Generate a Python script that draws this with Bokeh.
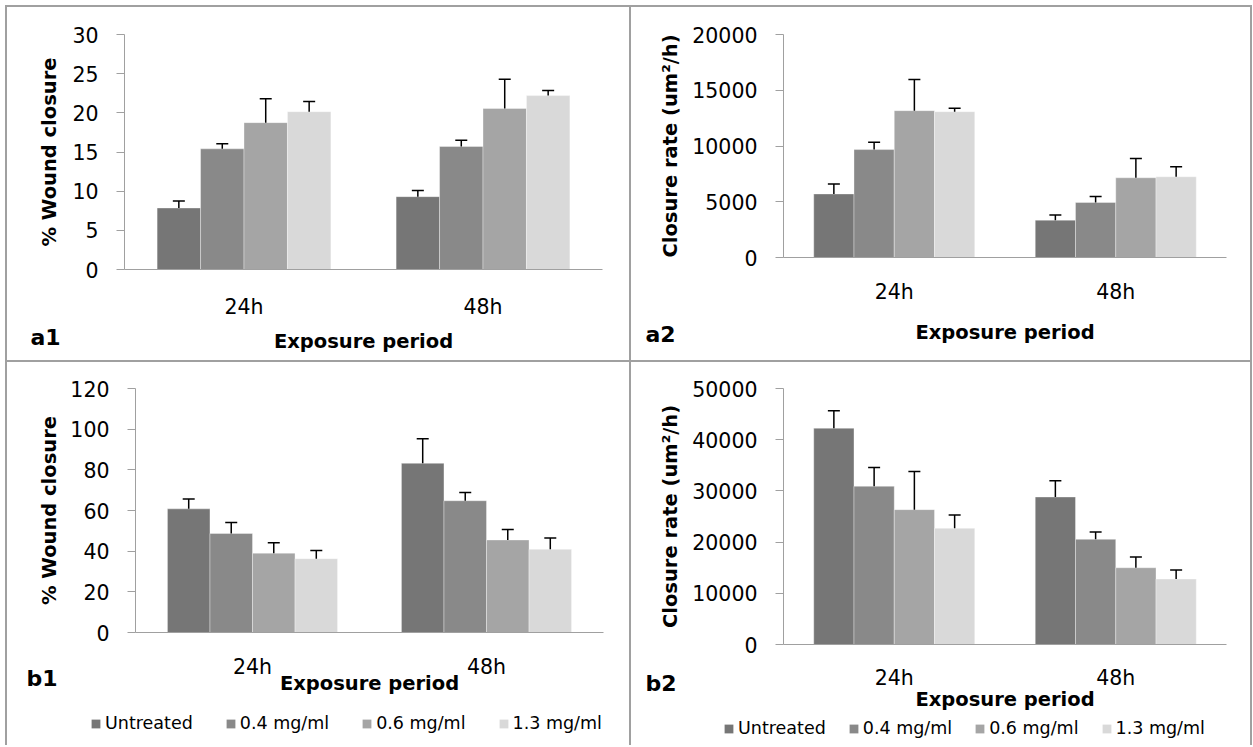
from bokeh.plotting import figure
from bokeh.models import (ColumnDataSource, FactorRange, Range1d, SingleIntervalTicker,
                          Whisker, TeeHead, Title, Legend, LegendItem, Spacer)
from bokeh.layouts import row, column
from bokeh.transform import dodge
from bokeh.embed import file_html
from bokeh.resources import INLINE

# ---------------- data ----------------
periods = ["24h", "48h"]
series = ["Untreated", "0.4 mg/ml", "0.6 mg/ml", "1.3 mg/ml"]
colors = ["#767676", "#898989", "#a5a5a5", "#d9d9d9"]

# a1: % wound closure
a1_means = [[7.85, 9.3], [15.4, 15.7], [18.75, 20.55], [20.15, 22.2]]
a1_errs = [[0.9, 0.8], [0.65, 0.8], [3.05, 3.75], [1.3, 0.65]]
# a2: closure rate
a2_means = [[5700, 3350], [9680, 4930], [13170, 7150], [13080, 7240]]
a2_errs = [[890, 460], [650, 540], [2800, 1730], [300, 890]]
# b1: % wound closure
b1_means = [[60.8, 83.2], [48.7, 64.8], [39.0, 45.5], [36.3, 40.9]]
b1_errs = [[4.8, 12.1], [5.4, 4.1], [5.2, 5.1], [4.0, 5.6]]
# b2: closure rate
b2_means = [[42240, 28810], [30900, 20540], [26340, 14990], [22690, 12780]]
b2_errs = [[3390, 3190], [3650, 1430], [7430, 2090], [2610, 1760]]

FONT = "DejaVu Sans"
AXIS_GRAY = "#a0a0a0"
BORDER_GRAY = "#a0a0a0"


def no_align(p):
    try:
        p.frame_align = False
    except Exception:
        pass


def make_panel(means, errs, ymax, step, ytitle, tag, w, h, borders,
               ylab_standoff, xtick_standoff, xlab_standoff, tag_cfg):
    left, right, top, bottom = borders
    p = figure(x_range=FactorRange(*periods), y_range=Range1d(0, ymax),
               width=w, height=h, output_backend="svg", toolbar_location=None,
               min_border_left=left, min_border_right=right,
               min_border_top=top, min_border_bottom=bottom)
    no_align(p)
    p.outline_line_color = None
    p.xgrid.visible = False
    p.ygrid.visible = False

    group = 0.727
    bw = group / len(series)
    sources = []
    for i, s in enumerate(series):
        off = -group / 2 + bw * (i + 0.5)
        src = ColumnDataSource(dict(period=periods, val=means[i],
                                    hi=[m + e for m, e in zip(means[i], errs[i])]))
        sources.append(src)
        p.vbar(x=dodge("period", off, range=p.x_range), top="val", width=bw,
               source=src, fill_color=colors[i], line_color="white",
               line_alpha=0.35, line_width=1)
        wk = Whisker(base=dodge("period", off, range=p.x_range), lower="val", upper="hi",
                     source=src, dimension="height", line_color="#000000", line_width=1.5,
                     lower_head=None, level="overlay",
                     upper_head=TeeHead(size=12, line_color="#000000", line_width=1.5))
        p.add_layout(wk)

    ya = p.yaxis[0]
    ya.ticker = SingleIntervalTicker(interval=step)
    ya.axis_line_color = AXIS_GRAY
    ya.major_tick_line_color = AXIS_GRAY
    ya.major_tick_out = 8
    ya.major_tick_in = 0
    ya.minor_tick_line_color = None
    ya.major_label_text_font = FONT
    ya.major_label_text_font_size = "20.5px"
    ya.major_label_text_color = "#000000"
    ya.major_label_standoff = 18
    ya.axis_label = ytitle
    ya.axis_label_text_font = FONT
    ya.axis_label_text_font_style = "bold"
    ya.axis_label_text_font_size = "19.5px"
    ya.axis_label_text_color = "#000000"
    ya.axis_label_standoff = ylab_standoff

    xa = p.xaxis[0]
    xa.axis_line_color = AXIS_GRAY
    xa.major_tick_line_color = None
    xa.minor_tick_line_color = None
    xa.major_label_text_font = FONT
    xa.major_label_text_font_size = "20.5px"
    xa.major_label_text_color = "#000000"
    xa.major_label_standoff = xtick_standoff
    xa.axis_label = "Exposure period"
    xa.axis_label_text_font = FONT
    xa.axis_label_text_font_style = "bold"
    xa.axis_label_text_font_size = "19.5px"
    xa.axis_label_text_color = "#000000"
    xa.axis_label_standoff = xlab_standoff

    toff, tstand = tag_cfg
    p.add_layout(Title(text=tag, align="left", vertical_align="top", offset=toff,
                       standoff=tstand, text_font=FONT, text_font_style="bold",
                       text_font_size="22px", text_color="#000000"), "below")
    return p, sources


def make_legend(w, h, sources, loc, spacing):
    # legend strip: the series bars lie outside its visible y range,
    # so only the legend entries show
    lf = figure(width=w, height=h, x_range=FactorRange(*periods), y_range=Range1d(-1, 0),
                output_backend="svg", toolbar_location=None,
                x_axis_location=None, y_axis_location=None,
                min_border=0, min_border_left=0, min_border_right=0,
                min_border_top=0, min_border_bottom=0)
    no_align(lf)
    lf.outline_line_color = None
    lf.xgrid.visible = False
    lf.ygrid.visible = False
    items = []
    for s, c, src in zip(series, colors, sources):
        r = lf.vbar(x="period", top="val", width=0.1, source=src,
                    fill_color=c, line_color=None)
        items.append(LegendItem(label=s, renderers=[r]))
    leg = Legend(items=items, orientation="horizontal", location=loc,
                 padding=0, margin=0, spacing=spacing, glyph_width=11, glyph_height=11,
                 label_standoff=4, label_text_font=FONT, label_text_font_size="17.5px",
                 label_text_color="#000000", border_line_color=None,
                 background_fill_alpha=0, label_height=18)
    lf.add_layout(leg)
    return lf


a1, a1_src = make_panel(a1_means, a1_errs, 30, 5, "% Wound closure", "a1", 622, 353,
                        (117, 27, 27, 91), 8, 19, 8, (-94, -62))
a2, a2_src = make_panel(a2_means, a2_errs, 20000, 5000, "Closure rate (um\u00b2/h)", "a2",
                        619, 353, (152, 24, 27, 103), 7, 16, 14, (-138, -50))
b1, b1_src = make_panel(b1_means, b1_errs, 120, 20, "% Wound closure", "b1", 622, 351,
                        (128, 26, 26, 81), 6, 16, -10, (-109, -64))
b2, b2_src = make_panel(b2_means, b2_errs, 50000, 10000, "Closure rate (um\u00b2/h)", "b2",
                        619, 355, (152, 24, 26, 73), 7, 15, -5, (-138, -86))
leg1 = make_legend(622, 32, b1_src, (83, 12), 32)
leg2 = make_legend(619, 28, b2_src, (92, 7), 22)


def bar(w, h):
    return Spacer(width=w, height=h, styles={"background-color": BORDER_GRAY})


def wrap(p):
    return column(p)


TOTAL_W = 2 + 622 + 2 + 619 + 2
root = column(
    bar(TOTAL_W, 2),
    row(bar(2, 353), wrap(a1), bar(2, 353), wrap(a2), bar(2, 353)),
    bar(TOTAL_W, 2),
    row(bar(2, 383), column(wrap(b1), wrap(leg1)), bar(2, 383),
        column(wrap(b2), wrap(leg2)), bar(2, 383)),
)
root.margin = (5, 0, 0, 5)

open("out.html", "w").write(file_html(root, INLINE))
